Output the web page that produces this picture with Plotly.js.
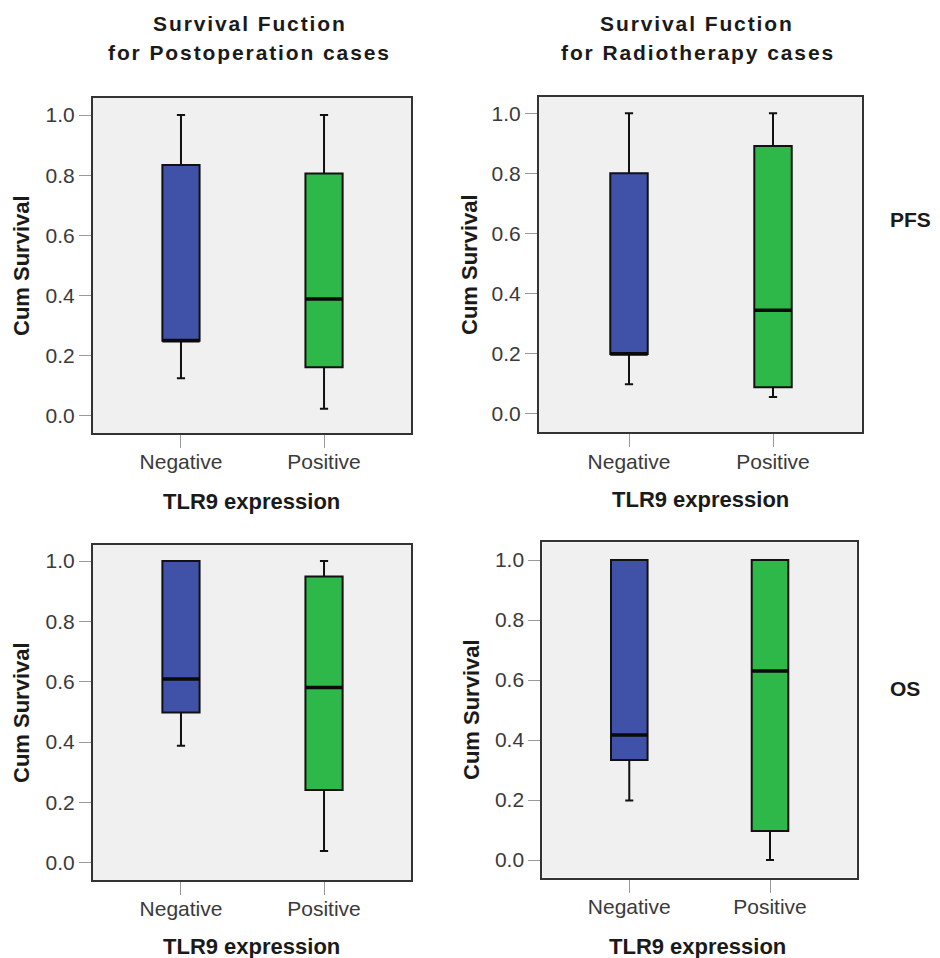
<!DOCTYPE html>
<html>
<head>
<meta charset="utf-8">
<script src="https://cdn.plot.ly/plotly-3.0.1.min.js"></script>
<style>
  html, body { margin: 0; padding: 0; background: #ffffff; }
  #chart { width: 940px; height: 958px; }
  text[data-unformatted*="Fuction"], text[data-unformatted*="cases"] { letter-spacing: 1.9px; }
</style>
</head>
<body>
<div id="chart"></div>
<script>
// ---- Data ----
var categories = ['Negative', 'Positive'];
var yTickVals = [0.0, 0.2, 0.4, 0.6, 0.8, 1.0];
var yTickText = ['0.0', '0.2', '0.4', '0.6', '0.8', '1.0'];

// PFS, Postoperation cases
var pfsPostLower  = [0.125, 0.024];
var pfsPostQ1     = [0.250, 0.162];
var pfsPostMedian = [0.250, 0.389];
var pfsPostQ3     = [0.834, 0.806];
var pfsPostUpper  = [1.000, 1.000];

// PFS, Radiotherapy cases
var pfsRadLower  = [0.097, 0.055];
var pfsRadQ1     = [0.198, 0.087];
var pfsRadMedian = [0.198, 0.344];
var pfsRadQ3     = [0.800, 0.891];
var pfsRadUpper  = [1.000, 1.000];

// OS, Postoperation cases
var osPostLower  = [0.388, 0.039];
var osPostQ1     = [0.498, 0.241];
var osPostMedian = [0.609, 0.581];
var osPostQ3     = [1.000, 0.949];
var osPostUpper  = [1.000, 1.000];

// OS, Radiotherapy cases
var osRadLower  = [0.198, 0.000];
var osRadQ1     = [0.333, 0.097];
var osRadMedian = [0.417, 0.630];
var osRadQ3     = [1.000, 1.000];
var osRadUpper  = [1.000, 1.000];

var titleLine1 = 'Survival Fuction';
var titleLeft2 = 'for Postoperation cases';
var titleRight2 = 'for Radiotherapy cases';
var xTitle = 'TLR9 expression';
var yTitle = 'Cum Survival';
var rowLabels = ['PFS', 'OS'];

// ---- Styles ----
var boxColors = ['#3F52A8', '#2EB84A'];
var FONT = 'Liberation Sans, Arial, sans-serif';

var panels = [
  {lower: pfsPostLower, q1: pfsPostQ1, med: pfsPostMedian, q3: pfsPostQ3, upper: pfsPostUpper, xa: 'x',  ya: 'y'},
  {lower: pfsRadLower,  q1: pfsRadQ1,  med: pfsRadMedian,  q3: pfsRadQ3,  upper: pfsRadUpper,  xa: 'x2', ya: 'y2'},
  {lower: osPostLower,  q1: osPostQ1,  med: osPostMedian,  q3: osPostQ3,  upper: osPostUpper,  xa: 'x3', ya: 'y3'},
  {lower: osRadLower,   q1: osRadQ1,   med: osRadMedian,   q3: osRadQ3,   upper: osRadUpper,   xa: 'x4', ya: 'y4'}
];

var traces = [];
panels.forEach(function (p) {
  for (var i = 0; i < categories.length; i++) {
    traces.push({
      type: 'box',
      x: [categories[i]],
      q1: [p.q1[i]], median: [p.med[i]], q3: [p.q3[i]],
      lowerfence: [p.lower[i]], upperfence: [p.upper[i]],
      xaxis: p.xa, yaxis: p.ya,
      width: 0.26,
      whiskerwidth: 0.22,
      fillcolor: boxColors[i],
      line: {color: '#111111', width: 2},
      boxpoints: false,
      showlegend: false,
      hoverinfo: 'skip'
    });
    // thick median line: zero-height box at the median value
    traces.push({
      type: 'box',
      x: [categories[i]],
      q1: [p.med[i]], median: [p.med[i]], q3: [p.med[i]],
      lowerfence: [p.med[i]], upperfence: [p.med[i]],
      xaxis: p.xa, yaxis: p.ya,
      width: 0.26,
      whiskerwidth: 0,
      fillcolor: 'rgba(0,0,0,0)',
      line: {color: '#0a0a0a', width: 3.5},
      boxpoints: false,
      showlegend: false,
      hoverinfo: 'skip'
    });
  }
});

function xAxis(domain, range, anchor) {
  return {
    domain: domain, range: range, anchor: anchor,
    type: 'category', categoryorder: 'array', categoryarray: categories,
    showline: true, linecolor: '#333333', linewidth: 2, mirror: true,
    ticks: 'outside', ticklen: 13, tickwidth: 1, tickcolor: '#999999',
    ticklabelstandoff: -4,
    showgrid: false, zeroline: false, fixedrange: true,
    tickfont: {family: FONT, size: 21, color: '#3a3a3a'}
  };
}
function yAxis(domain, range, anchor) {
  return {
    domain: domain, range: range, anchor: anchor,
    tickmode: 'array', tickvals: yTickVals, ticktext: yTickText,
    showline: true, linecolor: '#333333', linewidth: 2, mirror: true,
    ticks: 'outside', ticklen: 12, tickwidth: 1, tickcolor: '#999999',
    showgrid: false, zeroline: false, fixedrange: true,
    tickfont: {family: FONT, size: 21, color: '#3a3a3a'}
  };
}

var W = 940, H = 958;
function px(x) { return x / W; }
function py(y) { return 1 - y / H; }

function ann(text, x, y, size, opts) {
  var a = {
    text: text, xref: 'paper', yref: 'paper', x: px(x), y: py(y),
    xanchor: 'center', yanchor: 'middle', showarrow: false,
    font: {family: FONT, size: size, color: '#1a1a1a', weight: 'bold'}
  };
  if (opts) { for (var k in opts) a[k] = opts[k]; }
  return a;
}

var annotations = [
  ann(titleLine1, 250, 23, 21),
  ann(titleLeft2, 249, 52, 21),
  ann(titleLine1, 697, 23, 21),
  ann(titleRight2, 698, 52, 21),
  ann(yTitle, 21, 266, 22, {textangle: -90}),
  ann(yTitle, 469, 265, 22, {textangle: -90}),
  ann(yTitle, 21, 713, 22, {textangle: -90}),
  ann(yTitle, 471, 710, 22, {textangle: -90}),
  ann(xTitle, 251.5, 501, 22),
  ann(xTitle, 700, 499, 22),
  ann(xTitle, 251.5, 946, 22),
  ann(xTitle, 697.5, 946, 22),
  ann(rowLabels[0], 910, 220, 21),
  ann(rowLabels[1], 905, 688, 21)
];

var layout = {
  width: W, height: H,
  margin: {l: 0, r: 0, t: 0, b: 0},
  paper_bgcolor: '#ffffff',
  plot_bgcolor: '#F0F0F0',
  showlegend: false,
  boxmode: 'overlay',
  xaxis:  xAxis([93 / W, 411 / W], [-0.615, 1.608], 'y'),
  yaxis:  yAxis([py(433), py(98)], [-0.0565, 1.0565], 'x'),
  xaxis2: xAxis([539 / W, 862 / W], [-0.625, 1.618], 'y2'),
  yaxis2: yAxis([py(432.3), py(96.7)], [-0.063, 1.055], 'x2'),
  xaxis3: xAxis([93 / W, 411 / W], [-0.615, 1.608], 'y3'),
  yaxis3: yAxis([py(880), py(545)], [-0.057, 1.053], 'x3'),
  xaxis4: xAxis([542.3 / W, 856.7 / W], [-0.618, 1.616], 'y4'),
  yaxis4: yAxis([py(877.7), py(542.3)], [-0.059, 1.059], 'x4'),
  annotations: annotations
};

Plotly.newPlot('chart', traces, layout, {displayModeBar: false, staticPlot: true});
</script>
</body>
</html>
